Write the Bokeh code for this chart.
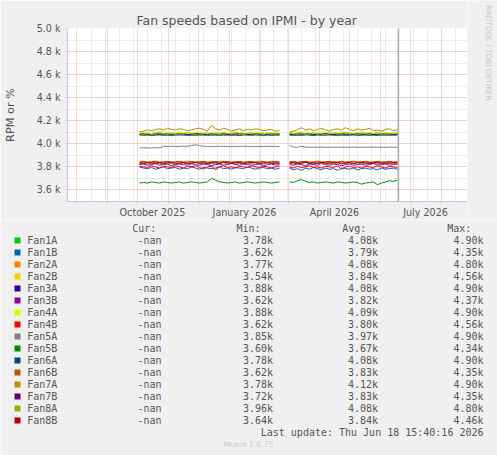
import math
from datetime import datetime, timedelta
import numpy as np
from bokeh.plotting import figure
from bokeh.models import FixedTicker, Range1d, Span
from bokeh.layouts import column, row
from bokeh.embed import file_html
from bokeh.resources import INLINE
from bokeh.core.properties import value

# ---------------- data ----------------
names = ["Fan1A", "Fan1B", "Fan2A", "Fan2B", "Fan3A", "Fan3B", "Fan4A", "Fan4B",
         "Fan5A", "Fan5B", "Fan6A", "Fan6B", "Fan7A", "Fan7B", "Fan8A", "Fan8B"]
colors = ["#00CC00", "#0066B3", "#FF8000", "#FFCC00", "#330099", "#990099", "#CCFF00", "#FF0000",
          "#808080", "#008F00", "#00487D", "#B35A00", "#B38F00", "#6B006B", "#8FB300", "#B30000"]
cur_vals = ["-nan"] * 16
min_vals = ["3.78k", "3.62k", "3.77k", "3.54k", "3.88k", "3.62k", "3.88k", "3.62k",
            "3.85k", "3.60k", "3.78k", "3.62k", "3.78k", "3.72k", "3.96k", "3.64k"]
avg_vals = ["4.08k", "3.79k", "4.08k", "3.84k", "4.08k", "3.82k", "4.09k", "3.80k",
            "3.97k", "3.67k", "4.08k", "3.83k", "4.12k", "3.83k", "4.08k", "3.84k"]
max_vals = ["4.90k", "4.35k", "4.80k", "4.56k", "4.90k", "4.37k", "4.90k", "4.56k",
            "4.90k", "4.34k", "4.90k", "4.35k", "4.90k", "4.35k", "4.80k", "4.46k"]

seg1_start = datetime(2025, 10, 3)   # 36 samples, 4 days apart
seg2_start = datetime(2026, 3, 2)    # 28 samples, 4 days apart
sample_days = 4

seg1 = {
 "Fan1A": [4080,4075,4080,4070,4080,4085,4075,4080,4070,4080,4085,4080,4075,4080,4070,4080,4085,4075,4080,4080,4070,4085,4080,4075,4080,4070,4080,4085,4075,4080,4080,4070,4080,4075,4085,4080],
 "Fan1B": [3800,3790,3785,3795,3780,3790,3800,3785,3790,3795,3780,3790,3785,3800,3790,3780,3795,3790,3785,3790,3800,3785,3790,3780,3795,3790,3785,3800,3790,3780,3790,3795,3785,3790,3780,3790],
 "Fan2A": [4085,4080,4080,4075,4085,4080,4080,4085,4075,4080,4080,4085,4080,4075,4080,4085,4080,4080,4075,4085,4080,4080,4085,4075,4080,4080,4085,4080,4075,4080,4085,4080,4080,4075,4085,4080],
 "Fan2B": [3845,3850,3840,3845,3855,3845,3840,3850,3845,3840,3850,3845,3855,3840,3845,3850,3845,3840,3850,3845,3845,3855,3840,3845,3850,3840,3845,3850,3845,3840,3855,3845,3840,3850,3845,3845],
 "Fan3A": [4085,4090,4085,4080,4090,4085,4085,4090,4080,4085,4090,4085,4080,4085,4090,4085,4085,4080,4090,4085,4085,4090,4080,4085,4085,4090,4085,4080,4085,4090,4085,4085,4080,4090,4085,4085],
 "Fan3B": [3820,3825,3815,3820,3830,3815,3820,3825,3810,3820,3825,3820,3815,3830,3820,3815,3825,3820,3810,3820,3825,3815,3820,3830,3820,3815,3825,3820,3815,3820,3825,3810,3820,3825,3815,3820],
 "Fan4A": [4095,4100,4090,4105,4095,4100,4110,4095,4090,4100,4105,4095,4100,4090,4105,4100,4095,4085,4100,4105,4095,4100,4090,4100,4105,4095,4100,4090,4095,4105,4100,4095,4090,4100,4095,4100],
 "Fan4B": [3805,3800,3795,3810,3800,3790,3805,3800,3795,3810,3800,3790,3805,3800,3810,3795,3780,3800,3805,3775,3800,3810,3795,3800,3790,3805,3800,3795,3810,3800,3795,3805,3800,3790,3800,3805],
 "Fan5A": [3965,3966,3965,3964,3966,3965,3978,3978,3979,3977,3978,3980,3978,3985,3992,3985,3979,3978,3976,3978,3979,3977,3978,3976,3978,3977,3979,3978,3976,3978,3977,3978,3979,3977,3978,3977],
 "Fan5B": [3660,3665,3660,3670,3665,3660,3670,3665,3660,3665,3670,3660,3665,3670,3665,3660,3665,3670,3700,3685,3670,3665,3660,3665,3670,3660,3665,3670,3665,3660,3665,3670,3665,3660,3665,3670],
 "Fan6A": [4077,4076,4077,4075,4076,4077,4076,4075,4077,4076,4077,4076,4075,4076,4077,4076,4075,4077,4076,4076,4077,4075,4076,4077,4076,4075,4077,4076,4076,4077,4075,4076,4077,4076,4075,4076],
 "Fan6B": [3830,3835,3825,3830,3840,3830,3825,3835,3830,3820,3830,3835,3830,3825,3840,3830,3835,3825,3830,3835,3830,3840,3825,3830,3835,3830,3825,3835,3830,3840,3830,3825,3835,3830,3830,3835],
 "Fan7A": [4105,4110,4120,4115,4125,4130,4120,4135,4125,4120,4130,4125,4115,4120,4130,4135,4125,4110,4160,4130,4120,4135,4125,4110,4120,4130,4115,4125,4120,4130,4125,4115,4120,4125,4110,4115],
 "Fan7B": [3835,3830,3840,3835,3830,3838,3832,3835,3840,3830,3835,3838,3830,3835,3840,3832,3835,3830,3838,3835,3830,3840,3835,3832,3835,3838,3830,3835,3840,3835,3830,3835,3838,3832,3835,3830],
 "Fan8A": [4090,4085,4095,4080,4090,4100,4085,4090,4095,4080,4090,4085,4095,4090,4080,4070,4090,4095,4085,4090,4080,4095,4090,4085,4100,4090,4080,4090,4095,4085,4090,4080,4095,4090,4085,4090],
 "Fan8B": [3842,3845,3840,3843,3845,3840,3842,3846,3840,3843,3845,3841,3842,3845,3840,3843,3846,3840,3842,3845,3841,3843,3845,3840,3842,3846,3840,3843,3845,3841,3842,3845,3840,3843,3845,3842],
}
seg2 = {
 "Fan1A": [4080,4070,4080,4075,4085,4080,4070,4080,4080,4075,4085,4080,4070,4080,4075,4080,4085,4070,4080,4080,4075,4080,4070,4085,4080,4075,4080,4080],
 "Fan1B": [3790,3775,3785,3770,3790,3780,3795,3785,3775,3790,3780,3785,3770,3790,3785,3780,3790,3775,3785,3790,3780,3785,3775,3790,3780,3785,3790,3780],
 "Fan2A": [4080,4085,4080,4075,4080,4085,4080,4080,4075,4085,4080,4080,4085,4075,4080,4080,4085,4080,4075,4080,4085,4080,4080,4075,4085,4080,4080,4085],
 "Fan2B": [3845,3850,3840,3845,3850,3845,3840,3855,3845,3840,3850,3845,3845,3840,3850,3845,3855,3840,3845,3850,3845,3840,3850,3845,3845,3850,3840,3845],
 "Fan3A": [4085,4080,4090,4085,4085,4090,4080,4085,4085,4090,4085,4080,4085,4090,4085,4085,4080,4090,4085,4085,4090,4080,4085,4085,4090,4085,4080,4085],
 "Fan3B": [3820,3815,3825,3820,3810,3825,3820,3815,3830,3820,3815,3825,3820,3810,3820,3825,3815,3820,3825,3815,3820,3830,3815,3820,3825,3815,3820,3825],
 "Fan4A": [4090,4105,4100,4095,4110,4100,4090,4095,4105,4100,4095,4090,4100,4105,4095,4100,4090,4100,4105,4095,4100,4090,4095,4105,4100,4095,4090,4100],
 "Fan4B": [3800,3790,3805,3795,3800,3810,3795,3800,3790,3805,3800,3795,3810,3780,3800,3805,3795,3800,3790,3805,3800,3795,3810,3800,3790,3805,3800,3795],
 "Fan5A": [3985,3972,3971,3978,3972,3971,3970,3971,3972,3970,3971,3970,3972,3971,3970,3971,3972,3970,3971,3970,3971,3972,3970,3971,3970,3972,3971,3970],
 "Fan5B": [3670,3665,3680,3690,3675,3665,3670,3660,3665,3670,3665,3660,3670,3665,3660,3665,3670,3665,3650,3660,3665,3670,3645,3660,3670,3680,3675,3685],
 "Fan6A": [4076,4077,4075,4076,4077,4076,4075,4077,4076,4076,4077,4075,4076,4077,4076,4075,4077,4076,4076,4077,4075,4076,4077,4076,4075,4077,4076,4076],
 "Fan6B": [3830,3825,3835,3830,3840,3830,3825,3835,3830,3825,3840,3830,3835,3825,3830,3835,3830,3840,3825,3830,3835,3830,3825,3835,3830,3840,3830,3825],
 "Fan7A": [4100,4110,4125,4140,4120,4130,4115,4125,4135,4120,4110,4125,4130,4120,4140,4125,4115,4130,4120,4125,4135,4115,4120,4110,4125,4130,4115,4120],
 "Fan7B": [3835,3838,3830,3835,3840,3832,3835,3830,3838,3835,3830,3840,3835,3832,3835,3838,3830,3835,3840,3835,3830,3835,3838,3832,3835,3830,3838,3835],
 "Fan8A": [4095,4085,4090,4100,4080,4090,4095,4085,4090,4075,4090,4095,4085,4090,4100,4085,4090,4080,4095,4090,4085,4090,4095,4080,4090,4085,4095,4090],
 "Fan8B": [3842,3845,3840,3843,3846,3840,3842,3845,3841,3843,3845,3840,3842,3846,3840,3843,3845,3841,3842,3845,3840,3843,3846,3840,3842,3845,3841,3843],
}

x_start = datetime(2025, 7, 23)
x_end = datetime(2026, 8, 27)
now_time = datetime(2026, 6, 18, 15, 40, 16)
y_major = [3600, 3800, 4000, 4200, 4400, 4600, 4800, 5000]
y_minor = [3500, 3600, 3700, 3800, 3900, 4000, 4100, 4200, 4300, 4400, 4500, 4600, 4700, 4800, 4900, 5000]
y_labels = ["3.6 k", "3.8 k", "4.0 k", "4.2 k", "4.4 k", "4.6 k", "4.8 k", "5.0 k"]
x_label_dates = [datetime(2025, 10, 16), datetime(2026, 1, 16), datetime(2026, 4, 16), datetime(2026, 7, 16)]
x_labels = ["October 2025", "January 2026", "April 2026", "July 2026"]
month_starts = [datetime(2025, m, 1) for m in range(8, 13)] + [datetime(2026, m, 1) for m in range(1, 9)]
minor_grid_first = datetime(2025, 8, 16)
title_text = "Fan speeds based on IPMI - by year"
last_update = "Last update: Thu Jun 18 15:40:16 2026"
watermark = "RRDTOOL / TOBI OETIKER"
footer = "Munin 2.0.75"


def ms(d):
    return (d - datetime(1970, 1, 1)).total_seconds() * 1000.0


biweekly = []
d = minor_grid_first
while d < x_end:
    biweekly.append(ms(d))
    d += timedelta(days=14)

t1 = [seg1_start + timedelta(days=sample_days * i) for i in range(len(seg1["Fan1A"]))]
t2 = [seg2_start + timedelta(days=sample_days * i) for i in range(len(seg2["Fan1A"]))]
gap_t = t1[-1] + timedelta(days=2)
t_all = t1 + [gap_t] + t2

# ---------------- plot ----------------
GRID_RED = "#F0B4B4"
GRID_GREY = "#D8D8D8"
AXIS_COL = "#C6C6F0"
TXT = "#555555"
BG = "#F0F0F0"

p = figure(width=467, height=220, x_axis_type="datetime",
           x_range=Range1d(x_start, x_end), y_range=Range1d(3500, 5000),
           toolbar_location=None, output_backend="svg",
           min_border_left=67, min_border_right=0, min_border_top=28, min_border_bottom=17)
p.frame_align = False
p.background_fill_color = "white"
p.border_fill_color = BG
p.outline_line_color = None

p.title.text = title_text
p.title.align = "left"
p.title.offset = 69
p.title.text_font = "DejaVu Sans"
p.title.text_font_size = "12.5px"
p.title.text_font_style = "normal"
p.title.text_color = TXT
p.title.standoff = 2

for name, col in zip(names, colors):
    ys = seg1[name] + [np.nan] + seg2[name]
    p.line(x=t_all, y=ys, line_color=col, line_width=1)

p.add_layout(Span(location=ms(now_time), dimension="height", line_color="#8a8a8a", line_width=1))

# y axis
p.yaxis.ticker = FixedTicker(ticks=y_major, minor_ticks=y_minor)
p.yaxis.major_label_overrides = {float(v): s for v, s in zip(y_major, y_labels)}
p.yaxis.axis_label = "RPM or %"
p.yaxis.axis_label_text_font = "DejaVu Sans"
p.yaxis.axis_label_text_font_size = "11.3px"
p.yaxis.axis_label_text_font_style = "normal"
p.yaxis.axis_label_text_color = TXT
p.yaxis.axis_label_standoff = 17
p.yaxis.major_label_text_font = "DejaVu Sans"
p.yaxis.major_label_text_font_size = "9.6px"
p.yaxis.major_label_text_color = TXT
p.yaxis.major_label_standoff = 5
p.yaxis.axis_line_color = AXIS_COL
p.yaxis.major_tick_in = 0
p.yaxis.major_tick_out = 2
p.yaxis.major_tick_line_color = GRID_RED
p.yaxis.minor_tick_in = 0
p.yaxis.minor_tick_out = 2
p.yaxis.minor_tick_line_color = GRID_GREY

# x axis
p.xaxis.ticker = FixedTicker(ticks=[ms(d) for d in x_label_dates],
                             minor_ticks=[ms(d) for d in month_starts])
p.xaxis.major_label_overrides = {ms(d): s for d, s in zip(x_label_dates, x_labels)}
p.xaxis.major_label_text_font = "DejaVu Sans"
p.xaxis.major_label_text_font_size = "9.6px"
p.xaxis.major_label_text_color = TXT
p.xaxis.major_label_standoff = 3
p.xaxis.axis_line_color = AXIS_COL
p.xaxis.major_tick_in = 0
p.xaxis.major_tick_out = 0
p.xaxis.minor_tick_in = 0
p.xaxis.minor_tick_out = 2
p.xaxis.minor_tick_line_color = GRID_RED

# grids
p.xgrid.ticker = FixedTicker(ticks=[ms(d) for d in month_starts], minor_ticks=biweekly)
for g in (p.xgrid, p.ygrid):
    g.grid_line_color = GRID_RED
    g.grid_line_dash = "1 1"
    g.minor_grid_line_color = GRID_GREY
    g.minor_grid_line_dash = "1 1"

# ---------------- right strip (watermark) ----------------
s = figure(width=30, height=220, x_range=Range1d(467, 497), y_range=Range1d(0, 220),
           toolbar_location=None, output_backend="svg", min_border=0,
           min_border_left=0, min_border_right=0, min_border_top=0, min_border_bottom=0,
           x_axis_location=None, y_axis_location=None)
s.frame_align = False
s.grid.visible = False
s.outline_line_color = None
s.background_fill_color = BG
s.border_fill_color = BG
s.text(x=[488], y=[215], text=[watermark], angle=-math.pi / 2,
       text_font=value("DejaVu Sans"), text_font_size="7.4px", text_color="#C4C4C4",
       text_align="left", text_baseline="middle")

# ---------------- legend / stats area ----------------
q = figure(width=497, height=235, x_range=Range1d(0, 497), y_range=Range1d(455, 220),
           toolbar_location=None, output_backend="svg", min_border=0,
           min_border_left=0, min_border_right=0, min_border_top=0, min_border_bottom=0,
           x_axis_location=None, y_axis_location=None)
q.frame_align = False
q.grid.visible = False
q.outline_line_color = None
q.background_fill_color = BG
q.border_fill_color = BG

row_y = [240 + 12 * i for i in range(len(names))]
mono = value("DejaVu Sans Mono")
fs = "10px"

q.rect(x=[17] * len(names), y=row_y, width=6, height=6, fill_color=colors, line_color=None)
q.text(x=[26.7] * len(names), y=row_y, text=names, text_font=mono, text_font_size=fs,
       text_color=TXT, text_align="left", text_baseline="middle")
hdr_x = [131.7, 236, 341.7, 446.7]
hdr_t = ["Cur:", "Min:", "Avg:", "Max:"]
q.text(x=hdr_x, y=[228.3] * 4, text=hdr_t, text_font=mono, text_font_size=fs,
       text_color=TXT, text_align="left", text_baseline="middle")
for xr, vals in zip([161, 272.5, 377.5, 483], [cur_vals, min_vals, avg_vals, max_vals]):
    q.text(x=[xr] * len(vals), y=row_y, text=vals, text_font=mono, text_font_size=fs,
           text_color=TXT, text_align="right", text_baseline="middle")
q.text(x=[483], y=[432], text=[last_update], text_font=mono, text_font_size=fs,
       text_color=TXT, text_align="right", text_baseline="middle")
q.text(x=[248], y=[444.3], text=[footer], text_font=value("DejaVu Sans"),
       text_font_size="7.6px", text_color="#C8C8C8", text_align="center", text_baseline="middle")

layout = column(row(p, s, spacing=0), q, spacing=0)
open("out.html", "w").write(file_html(layout, INLINE))
